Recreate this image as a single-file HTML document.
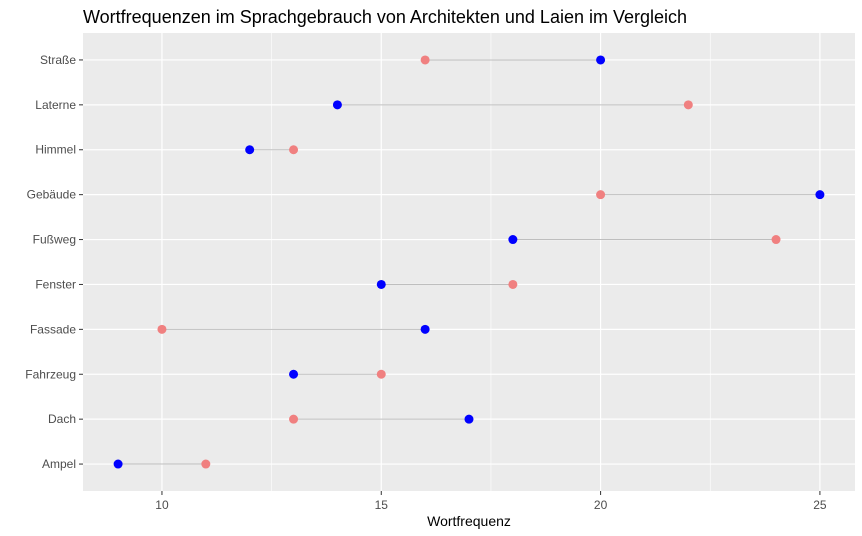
<!DOCTYPE html>
<html><head><meta charset="utf-8"><style>
body{margin:0;background:#fff;}
svg{display:block;font-family:"Liberation Sans",sans-serif;}
</style></head><body>
<svg id="chart" width="862" height="536">
<text x="83" y="23" font-size="18" fill="#000">Wortfrequenzen im Sprachgebrauch von Architekten und Laien im Vergleich</text>
<rect x="83" y="33" width="772" height="458" fill="#ebebeb"/>
<g id="grid"></g><g id="marks"></g><g id="axes"></g>
<text x="469" y="526" font-size="14" text-anchor="middle" fill="#000">Wortfrequenz</text>
</svg>
<script>
const categories=["Ampel","Dach","Fahrzeug","Fassade","Fenster","Fußweg","Gebäude","Himmel","Laterne","Straße"];
const blueValues=[9,17,13,16,15,18,25,12,14,20];
const pinkValues=[11,13,15,10,18,24,20,13,22,16];
const xTicks=[10,15,20,25];
const NS="http://www.w3.org/2000/svg";
const L=83,R=855,T=33,B=491,xmin=8.2,xmax=25.8;
const x=v=>L+(v-xmin)/(xmax-xmin)*(R-L);
const y=i=>B-(i+1-0.4)/(categories.length+0.2)*(B-T);
function mk(tag,attrs,parent){const e=document.createElementNS(NS,tag);for(const k in attrs)e.setAttribute(k,attrs[k]);document.getElementById(parent).appendChild(e);return e;}
const minorTicks=[];for(let i=0;i<xTicks.length-1;i++)minorTicks.push((xTicks[i]+xTicks[i+1])/2);
minorTicks.forEach(v=>{const e=mk('line',{x1:x(v),x2:x(v),y1:T,y2:B,stroke:'#fff','stroke-width':0.6},'grid');

});
xTicks.forEach(v=>{const e=mk('line',{x1:x(v),x2:x(v),y1:T,y2:B,stroke:'#fff','stroke-width':1.2},'grid');


const t=mk('line',{x1:x(v),x2:x(v),y1:B,y2:B+4,stroke:'#333','stroke-width':1},'axes');


const l=mk('text',{x:x(v),y:B+18,'font-size':12,'text-anchor':'middle',fill:'#4d4d4d'},'axes');l.textContent=v;

});
categories.forEach((c,i)=>{const yy=y(i);
const g=mk('line',{x1:L,x2:R,y1:yy,y2:yy,stroke:'#fff','stroke-width':1.2},'grid');


const t=mk('line',{x1:L-4,x2:L,y1:yy,y2:yy,stroke:'#333','stroke-width':1},'axes');


const l=mk('text',{x:L-7,y:yy+4,'font-size':12,'text-anchor':'end',fill:'#4d4d4d'},'axes');l.textContent=c;


const s=mk('line',{x1:x(blueValues[i]),x2:x(pinkValues[i]),y1:yy,y2:yy,stroke:'#bebebe','stroke-width':1},'marks');


const p=mk('circle',{cx:x(pinkValues[i]),cy:yy,r:4.5,fill:'#f08080'},'marks');


const b=mk('circle',{cx:x(blueValues[i]),cy:yy,r:4.5,fill:'#0000ff'},'marks');

});
</script>
</body></html>
